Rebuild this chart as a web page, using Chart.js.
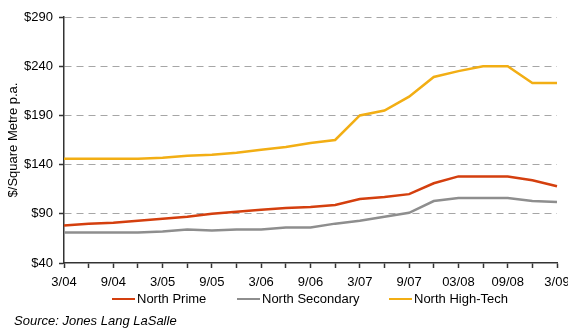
<!DOCTYPE html>
<html>
<head>
<meta charset="utf-8">
<script src="https://cdn.jsdelivr.net/npm/chart.js@4"></script>
<style>
    body { margin: 0; background: #fff; }
    #wrap { position: relative; width: 568px; height: 329px; font-family: 'Liberation Sans', Arial, sans-serif; }
    #rentChart { position: absolute; left: 0; top: 0; }
    .legend-item { position: absolute; top: 291px; font-size: 13px; color: #000; line-height: 16px; white-space: nowrap; }
    .legend-item .swatch { display: inline-block; width: 23px; height: 2px; vertical-align: middle; margin-right: 2px; position: relative; top: -1px; }
    #source { position: absolute; left: 14px; top: 313px; font-size: 13px; font-style: italic; color: #000; }
</style>
</head>
<body>
<div id="wrap">
    <canvas id="rentChart" width="568" height="329"></canvas>
    <div class="legend-item" style="left:112px"><span class="swatch" style="background:#D43F0E"></span>North Prime</div>
    <div class="legend-item" style="left:237px"><span class="swatch" style="background:#8E8E8E"></span>North Secondary</div>
    <div class="legend-item" style="left:389px"><span class="swatch" style="background:#F2AE14"></span>North High-Tech</div>
    <div id="source">Source: Jones Lang LaSalle</div>
</div>
<script>
// ==========================================
// DATA - quarterly rents, $/sqm p.a.
// ==========================================

const quarters = [
    '3/04', '6/04', '9/04', '12/04',
    '3/05', '6/05', '9/05', '12/05',
    '3/06', '6/06', '9/06', '12/06',
    '3/07', '6/07', '9/07', '12/07',
    '03/08', '06/08', '09/08', '12/08',
    '3/09'
];

// only every second quarter gets a label on the axis
const tickLabels = ['3/04', '9/04', '3/05', '9/05', '3/06', '9/06', '3/07', '9/07', '03/08', '09/08', '3/09'];

const northPrime = [78, 80, 81, 83, 85, 87, 90, 92, 94, 96, 97, 99, 105, 107, 110, 121, 128, 128, 128, 124, 118];
const northSecondary = [71, 71, 71, 71, 72, 74, 73, 74, 74, 76, 76, 80, 83, 87, 91, 103, 106, 106, 106, 103, 102];
const northHighTech = [146, 146, 146, 146, 147, 149, 150, 152, 155, 158, 162, 165, 190, 195, 209, 229, 235, 240, 240, 223, 223];

const yMin = 40;
const yMax = 290;
const yStep = 50;

// ==========================================
// CHART
// ==========================================

const FONT = { family: "'Liberation Sans', Arial, sans-serif", size: 13 };

const lineSet = (label, data, color) => ({
    label: label,
    data: data,
    borderColor: color,
    backgroundColor: color,
    borderWidth: 2.5,
    pointRadius: 0,
    tension: 0,
    fill: false
});

const ctx = document.getElementById('rentChart').getContext('2d');
const rentChart = new Chart(ctx, {
    type: 'line',
    data: {
        labels: quarters,
        datasets: [
            lineSet('North Prime', northPrime, '#D43F0E'),
            lineSet('North Secondary', northSecondary, '#8E8E8E'),
            lineSet('North High-Tech', northHighTech, '#F2AE14')
        ]
    },
    options: {
        responsive: false,
        animation: false,
        layout: {
            padding: { left: 0, right: 11, top: 17, bottom: 36 }
        },
        plugins: {
            legend: { display: false },
            tooltip: { enabled: false }
        },
        scales: {
            x: {
                offset: false,
                grid: {
                    drawOnChartArea: false,
                    drawTicks: true,
                    tickLength: 5,
                    tickColor: '#333333',
                    tickWidth: 1.5
                },
                border: { display: true, color: '#333333', width: 1.5 },
                ticks: {
                    autoSkip: false,
                    maxRotation: 0,
                    minRotation: 0,
                    padding: 7,
                    color: '#000',
                    font: FONT,
                    callback: (val, idx) => (idx % 2 === 0 ? tickLabels[idx / 2] : '')
                },
                afterFit: (scale) => {
                    scale.height = 30;
                    scale.paddingLeft = 0;
                    scale.paddingRight = 0;
                }
            },
            y: {
                min: yMin,
                max: yMax,
                grid: {
                    color: (c) => (c.tick && c.tick.value === yMin ? 'rgba(0,0,0,0)' : '#A6A6A6'),
                    lineWidth: 1,
                    drawTicks: true,
                    tickLength: 5,
                    tickColor: '#333333',
                    tickWidth: 1.5,
                    tickBorderDash: []
                },
                border: { display: true, color: '#333333', width: 1.5, dash: [7, 5] },
                ticks: {
                    stepSize: yStep,
                    padding: 6,
                    color: '#000',
                    font: FONT,
                    callback: (v) => '$' + v
                },
                title: {
                    display: true,
                    text: '$/Square Metre p.a.',
                    color: '#000',
                    font: FONT,
                    padding: { top: 6, bottom: 0 }
                },
                afterFit: (scale) => {
                    scale.width = 64;
                }
            }
        }
    }
});
</script>
</body>
</html>
